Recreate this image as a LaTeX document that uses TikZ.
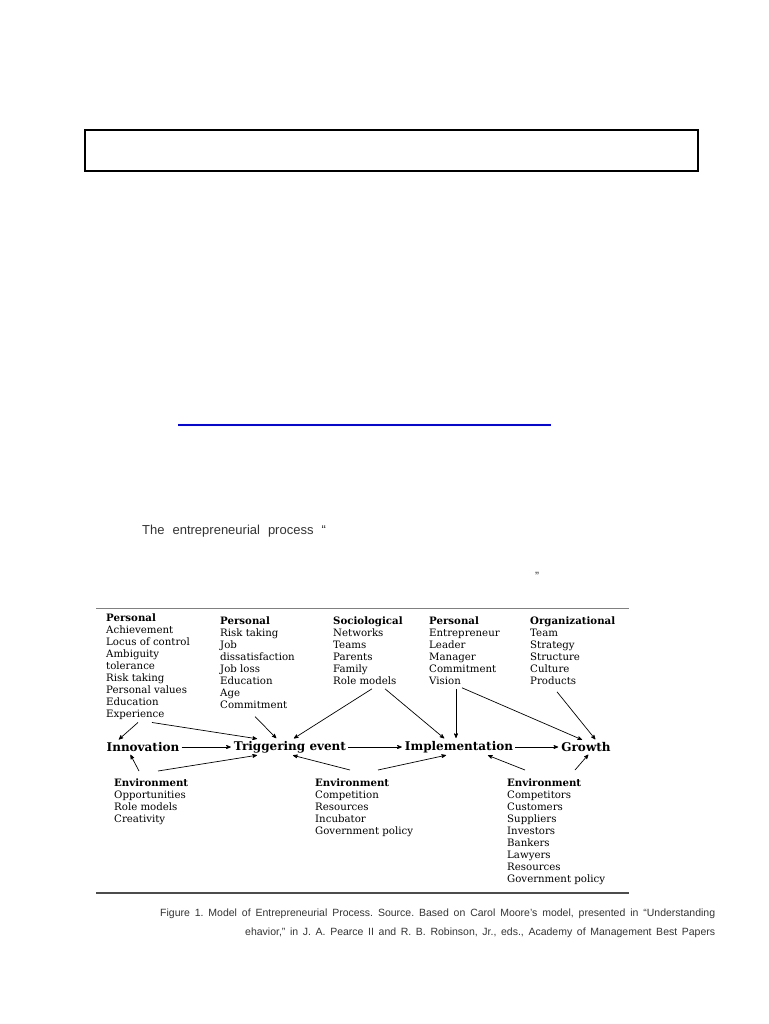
\documentclass[tikz,border=0pt]{standalone}
\usepackage{fontspec}
\usepackage{xcolor}
\usepackage{tikz}
\usetikzlibrary{arrows, calc}
\newfontfamily\capfont{Liberation Sans}
\newfontfamily\figfont{DejaVu Serif}
\frenchspacing

\begin{document}
\begin{tikzpicture}[x=1pt,y=-1pt,>=stealth',
        factor/.style={anchor=north west,align=left,inner sep=1pt,font=\figfont\fontsize{10.2}{11.9}\selectfont},
        stage/.style={inner sep=2pt,font=\figfont\fontsize{12}{14}\selectfont\bfseries},
        link/.style={->,line width=0.7pt,shorten >=1pt}]
        \useasboundingbox (0,0) rectangle (768,1024);
        % page frame and text lines
        \draw[line width=2.6pt] (85,130) rectangle (698,171);
        \draw[blue,line width=1.3pt] (178,425) -- (551,425);
        \node[anchor=base west,inner sep=0,text=black!80,font=\capfont\fontsize{13}{15}\selectfont] (intro) at (142,534) {The\hspace{8pt}entrepreneurial\hspace{8pt}process\hspace{8pt}“};
        \node[anchor=base west,inner sep=0,text=black!80,font=\capfont\fontsize{12}{14}\selectfont] (closeq) at (535,580) {”};
        % figure rules
        \draw[black!50,line width=1pt] (96,608) -- (629,608);
        \draw[black!70,line width=1.2pt] (96,893) -- (629,893);
        % influences
        \node[factor](p1) at (105,613){\textbf{Personal}\\Achievement\\Locus of control\\Ambiguity\\tolerance\\Risk taking\\Personal values\\Education\\Experience};
        \node[factor](p2) at (219,616){\textbf{Personal}\\Risk taking\\Job\\dissatisfaction\\Job loss\\Education\\Age\\Commitment};
        \node[factor](p3) at (332,616){\textbf{Sociological}\\Networks\\Teams\\Parents\\Family\\Role models};
        \node[factor](p4) at (428,616){\textbf{Personal}\\Entrepreneur\\Leader\\Manager\\Commitment\\Vision};
        \node[factor](p5) at (529,616){\textbf{Organizational}\\Team\\Strategy\\Structure\\Culture\\Products};
        \node[factor](e1) at (113,778){\textbf{Environment}\\Opportunities\\Role models\\Creativity};
        \node[factor](e2) at (314,778){\textbf{Environment}\\Competition\\Resources\\Incubator\\Government policy};
        \node[factor](e3) at (506,778){\textbf{Environment}\\Competitors\\Customers\\Suppliers\\Investors\\Bankers\\Lawyers\\Resources\\Government policy};
        % stages
        \node[stage](inn) at (143,747){Innovation};
        \node[stage](trig) at (290,747){Triggering event};
        \node[stage](impl) at (459,747){Implementation};
        \node[stage](grow) at (586,747){Growth};
        \draw[link] (inn) -- (trig);
        \draw[link] (trig) -- (impl);
        \draw[link] (impl) -- (grow);
        % arrows from above
        \draw[link] ($(p1.south west)+(33,2)$) -- ([xshift=-25pt]inn.north);
        \draw[link] ($(p1.south west)+(47,2)$) -- ([xshift=-32pt]trig.north);
        \draw[link] ($(p2.south west)+(36,7)$) -- ([xshift=-13pt]trig.north);
        \draw[link] ($(p3.south west)+(40,3)$) -- ([xshift=3pt]trig.north);
        \draw[link] ($(p3.south west)+(53,3)$) -- ([xshift=-14pt]impl.north);
        \draw[link] ($(p4.south west)+(28,3)$) -- ([xshift=-3pt]impl.north);
        \draw[link] ($(p4.south west)+(34,2)$) -- ([xshift=-3pt]grow.north);
        \draw[link] ($(p5.south west)+(28,6)$) -- ([xshift=10pt]grow.north);
        % arrows from below
        \draw[link] ($(e1.north west)+(26,-7)$) -- ([xshift=-13pt]inn.south);
        \draw[link] ($(e1.north west)+(45,-7)$) -- ([xshift=-32pt]trig.south);
        \draw[link] ($(e2.north west)+(36,-8)$) -- ([xshift=2pt]trig.south);
        \draw[link] ($(e2.north west)+(64,-8)$) -- ([xshift=-12pt]impl.south);
        \draw[link] ($(e3.north west)+(19,-8)$) -- ([xshift=28pt]impl.south);
        \draw[link] ($(e3.north west)+(69,-8)$) -- ([xshift=3pt]grow.south);
        % caption
        \node[anchor=north west,inner sep=0,text=black!80,font=\capfont\fontsize{10.5}{19}\selectfont] (cap) at (160,909)
            {\parbox{555pt}{\hangindent=85pt\hangafter=1\parfillskip=0pt Figure 1. Model of Entrepreneurial Process. Source. Based on Carol Moore’s model, presented in “Understanding\linebreak ehavior,” in J. A. Pearce II and R. B. Robinson, Jr., eds., Academy of Management Best Papers}};
\end{tikzpicture}
\end{document}
